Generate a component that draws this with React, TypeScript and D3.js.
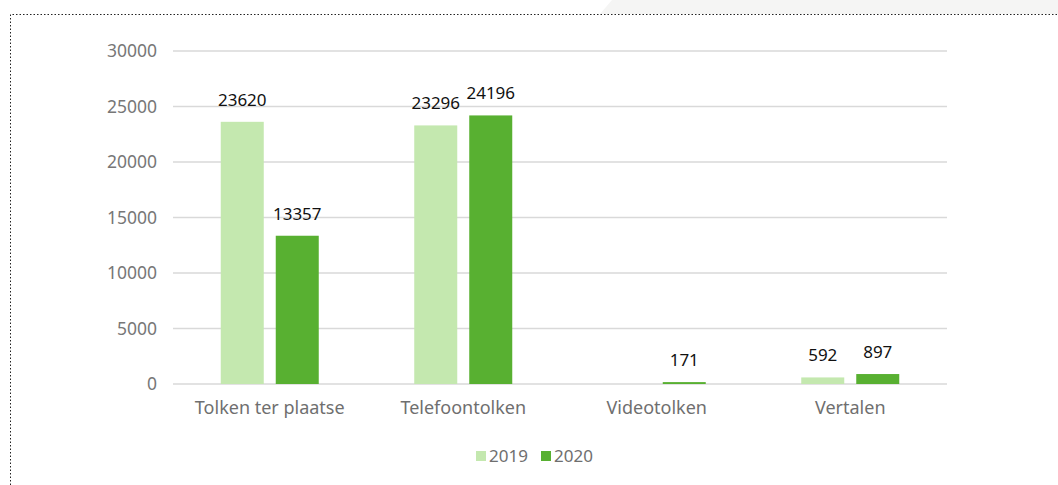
import React from "react";
import * as d3 from "d3";

const categories = ["Tolken ter plaatse", "Telefoontolken", "Videotolken", "Vertalen"];
const series = ["2019", "2020"];
const values2019: (number | null)[] = [23620, 23296, null, 592];
const values2020: (number | null)[] = [13357, 24196, 171, 897];
const yTicks = [0, 5000, 10000, 15000, 20000, 25000, 30000];
const colors = ["#c4e8af", "#58b031"];

const W = 1058;
const H = 485;
const margin = { left: 173, right: 111, top: 51, bottom: 101 };

export default function App() {
  const x = d3.scaleBand<string>().domain(categories).range([margin.left, W - margin.right]);
  const y = d3.scaleLinear().domain([0, 30000]).range([H - margin.bottom, margin.top]);
  const barW = 43;
  const gap = 12;
  const all = [values2019, values2020];
  const font = "'Noto Sans', 'Open Sans', sans-serif";
  return (
    <svg width={W} height={H} style={{ position: "absolute", left: 0, top: 0 }} fontFamily={font}>
      <rect x={0} y={0} width={W} height={H} fill="#fff" />
      <path d={`M600,14 L612,0 L${W},0 L${W},14 Z`} fill="#f5f5f4" />
      <path d={`M10.5,${H} L10.5,14.5 L${W},14.5`} fill="none" stroke="#222" strokeWidth={1} strokeDasharray="1.5,2" />
      {yTicks.map((t) => (
        <g key={t}>
          <line x1={margin.left} x2={W - margin.right} y1={y(t)} y2={y(t)} stroke="#d9d9d9" strokeWidth={1.3} />
          <text x={157} y={y(t)} dy="0.35em" textAnchor="end" fontSize={17.5} fill="#777">{t}</text>
        </g>
      ))}
      {categories.map((c, i) => {
        const cx = x(c)! + x.bandwidth() / 2;
        return (
          <g key={c}>
            {all.map((vals, s) => {
              const v = vals[i];
              if (v === null) return null;
              const bx = s === 0 ? cx - gap / 2 - barW : cx + gap / 2;
              return (
                <g key={s}>
                  <rect x={bx} y={y(v)} width={barW} height={y(0) - y(v)} fill={colors[s]} />
                  <text x={bx + barW / 2} y={y(v) - 16} textAnchor="middle" fontSize={17} fill="#111">{v}</text>
                </g>
              );
            })}
            <text x={cx} y={y(0) + 30} textAnchor="middle" fontSize={18} fill="#6f6f6f">{c}</text>
          </g>
        );
      })}
      {series.map((s, i) => {
        const lx = 476 + i * 65;
        return (
          <g key={s}>
            <rect x={lx} y={451} width={10} height={10} fill={colors[i]} />
            <text x={lx + 13} y={456} dy="0.35em" fontSize={17} fill="#6f6f6f">{s}</text>
          </g>
        );
      })}
    </svg>
  );
}
